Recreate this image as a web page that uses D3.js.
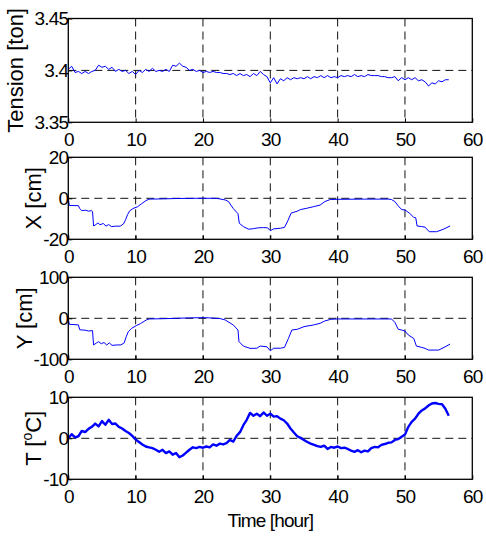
<!DOCTYPE html>
<html>
<head>
<meta charset="utf-8">
<script src="https://cdn.jsdelivr.net/npm/d3@7"></script>
<style>
  body { margin: 0; background: #fff; }
  svg text { font-family: 'Liberation Sans', Arial, sans-serif; fill: #000; }
</style>
</head>
<body>
<svg id="chart" width="486" height="537"></svg>
<script>
// sampling step (hours) for the two noisy records
const sampleStep = 0.5;

const hourTicks = [0, 10, 20, 30, 40, 50, 60];

// Tension [ton], one value every half hour from 0 to 56.5 h
const tensionValues = [
    3.401, 3.404, 3.398, 3.399, 3.397, 3.399, 3.397, 3.399, 3.400, 3.405,
    3.403, 3.404, 3.401, 3.403, 3.399, 3.401, 3.399, 3.400, 3.397, 3.399,
    3.396, 3.400, 3.398, 3.401, 3.399, 3.402, 3.399, 3.400, 3.399, 3.401,
    3.399, 3.405, 3.404, 3.407, 3.404, 3.403, 3.400, 3.401, 3.399, 3.400,
    3.398, 3.399, 3.398, 3.399, 3.398, 3.398, 3.397, 3.397, 3.396, 3.397,
    3.395, 3.397, 3.395, 3.396, 3.394, 3.397, 3.395, 3.399, 3.396, 3.394,
    3.388, 3.393, 3.387, 3.392, 3.390, 3.393, 3.391, 3.393, 3.392, 3.393,
    3.392, 3.394, 3.392, 3.394, 3.393, 3.395, 3.393, 3.395, 3.393, 3.394,
    3.393, 3.395, 3.394, 3.395, 3.394, 3.396, 3.394, 3.395, 3.394, 3.396,
    3.395, 3.395, 3.395, 3.394, 3.394, 3.393, 3.393, 3.394, 3.390, 3.393,
    3.391, 3.393, 3.391, 3.393, 3.390, 3.391, 3.389, 3.385, 3.388, 3.387,
    3.390, 3.389, 3.391, 3.391
];

// X displacement [cm] as [hour, value]
const xDisp = [
    [0, 0], [0.15, -3.5], [1.5, -3.6], [1.7, -5], [2.0, -6], [2.6, -5.8], [3.0, -6.3], [3.4, -6.0],
    [3.6, -6.5], [3.75, -13.5], [4.1, -12.8], [4.4, -12], [4.7, -12.9], [5.2, -12.3], [5.6, -13.6],
    [6.0, -12.8], [6.4, -13.8], [7.0, -13.6], [7.7, -13.6], [8.2, -12.5], [8.5, -10.5], [8.8, -8],
    [9.1, -6.2], [9.6, -5], [10.3, -4.1], [10.9, -2.6], [11.5, -1.2], [12.0, -0.4], [14, -0.3],
    [16, -0.1], [19, 0], [22, 0], [23.3, -0.8], [23.8, -1.6], [24.5, -5], [25.2, -7.5], [25.4, -12.2],
    [26, -13.8], [26.8, -15.1], [27.5, -14.8], [28.2, -14.4], [29.0, -14.3], [29.6, -14.4], [30.0, -15.8],
    [30.5, -14.9], [31.5, -14.6], [32.1, -14.2], [32.6, -11], [33.1, -7.2], [34.0, -6.3], [34.5, -5.5],
    [35.5, -4.8], [36.4, -4.1], [37.4, -3.3], [38.1, -1.6], [38.9, -0.6], [40, -0.5], [44, -0.4],
    [47.5, -0.4], [48.0, -0.6], [48.5, -1.6], [49.0, -3.7], [49.5, -5.5], [50.0, -5.7], [50.7, -7.3],
    [51.3, -9.3], [51.6, -9.5], [51.8, -13.5], [52.5, -13.8], [53.0, -14.1], [53.6, -16.3], [54.7, -16.3],
    [55.7, -15.1], [56.7, -13.5]
];

// Y displacement [cm] as [hour, value]
const yDisp = [
    [0, 0], [0.15, -14.7], [1.5, -16], [1.7, -28], [2.5, -29], [3.0, -31], [3.6, -30], [3.75, -65],
    [4.2, -60], [4.5, -57], [4.9, -62], [5.3, -59], [5.7, -65], [6.1, -60], [6.5, -66], [7.2, -65],
    [7.8, -65], [8.3, -60], [8.6, -45], [8.9, -33], [9.4, -24.5], [10.1, -18], [10.7, -13], [11.1, -9],
    [11.6, -4], [12.0, -1.6], [14, -1], [16, 0], [18, 1], [20, 1.5], [21, 1], [22.5, -0.5], [23.3, -4],
    [24.5, -16.3], [25.2, -28.6], [25.35, -57], [26.0, -67.7], [27.0, -73.4], [28.0, -73], [28.5, -67.7],
    [29.5, -69.4], [30.0, -79.2], [30.5, -73], [31.5, -73], [32.1, -71], [32.7, -49], [33.2, -28.6],
    [34.0, -26.9], [35.0, -20.4], [36.4, -16.3], [37.4, -12.2], [38.1, -6.5], [39.0, -2.4], [40, -1.6],
    [48, -1.6], [48.5, -10], [49.0, -26.9], [49.5, -28.6], [50.0, -31], [50.5, -40.8], [51.3, -49],
    [51.7, -67.7], [52.5, -71], [53.0, -73.4], [53.5, -77.5], [55.0, -77.5], [55.8, -71], [56.7, -62.8]
];

// Temperature [oC], one value every half hour from 0 to 56.5 h
const tempValues = [
    0.0, 1.0, 0.2, 0.5, 1.8, 1.5, 2.3, 2.8, 3.6, 2.9,
    4.2, 3.3, 4.5, 3.5, 3.6, 2.8, 2.4, 1.8, 1.3, 0.6,
    -0.3, -0.9, -1.5, -2.0, -2.2, -2.4, -2.8, -3.3, -2.8, -3.6,
    -3.2, -4.0, -3.6, -4.6, -4.2, -3.5, -2.8, -2.2, -2.4, -2.1,
    -2.3, -2.0, -2.2, -1.5, -1.8, -1.3, -1.5, -1.2, -0.4, -0.8,
    0.6, 1.5, 3.2, 4.5, 6.2, 5.5, 6.0, 5.4, 6.3, 5.5,
    6.0, 5.3, 5.4, 4.8, 4.4, 3.6, 2.4, 1.4, 0.5, 0.1,
    -0.4, -0.9, -1.3, -1.6, -1.9, -2.1, -1.8, -2.6, -2.1, -2.3,
    -2.0, -2.4, -2.3, -2.6, -3.0, -3.3, -2.9, -3.4, -3.0, -3.2,
    -2.4, -2.1, -2.2, -1.6, -1.4, -1.1, -1.0, -0.4, -0.2, 0.4,
    0.9, 2.8, 4.0, 4.8, 6.0, 6.8, 7.3, 8.0, 8.5, 8.6,
    8.4, 8.3, 7.2, 5.5
];

const tensionTicks = [3.35, 3.4, 3.45];
const xTicks = [-20, 0, 20];
const yTicks = [-100, 0, 100];
const tempTicks = [-10, 0, 10];

const svg = d3.select('#chart');
const left = 68.3, right = 472.3;
const x = d3.scaleLinear().domain([0, 60]).range([left, right]);

const sampled = (values) => values.map((v, i) => [i * sampleStep, v]);

const panels = [
    {top: 18.5, bottom: 122.3, ticks: tensionTicks, data: sampled(tensionValues), label: 'Tension [ton]', labelX: 23, width: 1},
    {top: 157.3, bottom: 239.3, ticks: xTicks, data: xDisp, label: 'X [cm]', labelX: 41, width: 1},
    {top: 277.3, bottom: 359.3, ticks: yTicks, data: yDisp, label: 'Y [cm]', labelX: 32, width: 1},
    {top: 397.3, bottom: 479.3, ticks: tempTicks, data: sampled(tempValues), label: 'T', labelX: 41, width: 2.4}
];

panels.forEach((p) => {
    const y = d3.scaleLinear().domain([p.ticks[0], p.ticks[2]]).range([p.bottom, p.top]);
    const g = svg.append('g');

    // dashed grid
    g.selectAll('.vgrid').data(hourTicks.slice(1, -1)).enter().append('line')
        .attr('x1', (d) => x(d)).attr('x2', (d) => x(d))
        .attr('y1', p.top).attr('y2', p.bottom)
        .attr('stroke', '#111').attr('stroke-width', 1).attr('stroke-dasharray', '8,5');
    g.append('line')
        .attr('x1', left).attr('x2', right)
        .attr('y1', y(p.ticks[1])).attr('y2', y(p.ticks[1]))
        .attr('stroke', '#111').attr('stroke-width', 1).attr('stroke-dasharray', '8,5');

    const line = d3.line().x((d) => x(d[0])).y((d) => y(d[1]));
    g.append('path').datum(p.data)
        .attr('d', line)
        .attr('fill', 'none')
        .attr('stroke', '#0000ff')
        .attr('stroke-width', p.width)
        .attr('stroke-linejoin', 'round');

    // frame with inward ticks, like matlab
    g.append('rect')
        .attr('x', left).attr('y', p.top)
        .attr('width', right - left).attr('height', p.bottom - p.top)
        .attr('fill', 'none').attr('stroke', '#000').attr('stroke-width', 1.3);

    const bottomAxis = d3.axisBottom(x).tickValues(hourTicks).tickSizeInner(-4).tickSizeOuter(0).tickPadding(10);
    const ax = g.append('g').attr('transform', 'translate(0,' + p.bottom + ')').call(bottomAxis);
    ax.select('.domain').remove();
    ax.selectAll('line').attr('stroke', '#000');
    ax.selectAll('text').attr('font-size', 19).attr('letter-spacing', -0.8).attr('dy', '0.72em')
        .attr('font-family', "'Liberation Sans', Arial, sans-serif");

    const leftAxis = d3.axisLeft(y).tickValues(p.ticks).tickFormat((d) => String(d)).tickSizeInner(-4).tickSizeOuter(0).tickPadding(0);
    const ay = g.append('g').attr('transform', 'translate(' + left + ',0)').call(leftAxis);
    ay.select('.domain').remove();
    ay.selectAll('line').attr('stroke', '#000');
    ay.selectAll('text').attr('font-size', 19).attr('letter-spacing', -0.8).attr('x', 0)
        .attr('font-family', "'Liberation Sans', Arial, sans-serif");

    // y title
    const title = g.append('text')
        .attr('transform', 'translate(' + p.labelX + ',' + ((p.top + p.bottom) / 2) + ') rotate(-90)')
        .attr('text-anchor', 'middle')
        .attr('font-size', 22);
    if (p.label === 'T') {
        title.append('tspan').text('T [');
        title.append('tspan').text('o').attr('font-size', 14).attr('dy', -9);
        title.append('tspan').text('C]').attr('dy', 9);
    } else {
        title.text(p.label);
    }
});

svg.append('text')
    .attr('x', x(30)).attr('y', 527)
    .attr('text-anchor', 'middle')
    .attr('font-size', 19)
    .attr('letter-spacing', -0.9)
    .text('Time [hour]');
</script>
</body>
</html>
